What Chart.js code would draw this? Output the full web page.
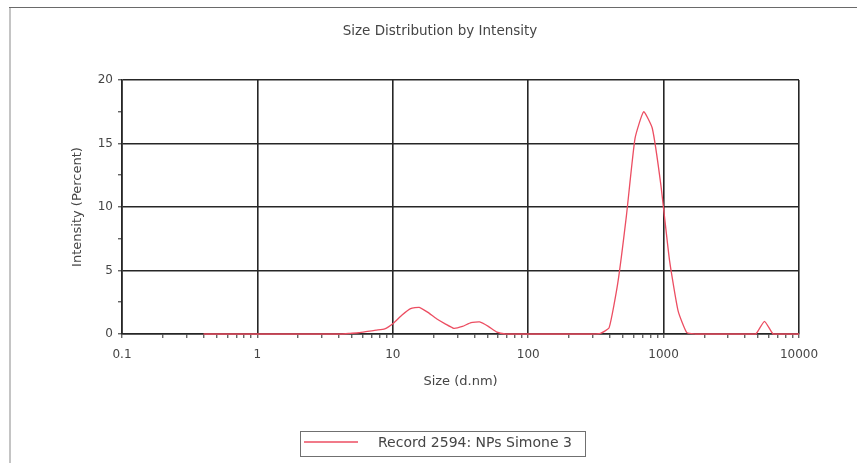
<!DOCTYPE html>
<html>
<head>
<meta charset="utf-8">
<title>Size Distribution by Intensity</title>
<script src="https://cdn.jsdelivr.net/npm/chart.js@4.4.1/dist/chart.umd.min.js"></script>
<style>
  html, body { margin: 0; padding: 0; background: #fff; }
  #wrap { width: 857px; height: 463px; position: relative; }
</style>
</head>
<body>
<div id="wrap"><canvas id="dist"></canvas></div>
<script>
// size classes (d.nm) and intensity (%)
var sizes = [0.4, 0.4632, 0.5365, 0.6213, 0.7195, 0.8332, 0.9649, 1.117, 1.294, 1.499,
  1.736, 2.010, 2.328, 2.696, 3.122, 3.615, 4.187, 4.849, 5.615, 6.503,
  7.531, 8.721, 10.10, 11.70, 13.54, 15.69, 18.17, 21.04, 24.36, 28.21,
  32.67, 37.84, 43.82, 50.75, 58.77, 68.06, 78.82, 91.28, 105.7, 122.4,
  141.8, 164.2, 190.1, 220.2, 255.0, 295.3, 342.0, 396.1, 458.7, 531.2,
  615.1, 712.4, 825.0, 955.4, 1106, 1281, 1484, 1718, 1990, 2305,
  2669, 3091, 3580, 4145, 4801, 5560, 6439, 7456, 8635, 10000];
var intensity = [0, 0, 0, 0, 0, 0, 0, 0, 0, 0,
  0, 0, 0, 0, 0, 0, 0, 0.05, 0.1, 0.2,
  0.3, 0.4, 0.85, 1.5, 2.0, 2.1, 1.7, 1.2, 0.8, 0.45,
  0.6, 0.9, 0.95, 0.6, 0.15, 0, 0, 0, 0, 0,
  0, 0, 0, 0, 0, 0, 0.05, 0.5, 4.0, 9.3,
  15.4, 17.5, 16.2, 11.7, 5.8, 1.8, 0.1, 0, 0, 0,
  0, 0, 0, 0, 0, 1.0, 0, 0, 0, 0];
var xDecades = [0.1, 1, 10, 100, 1000, 10000];
var yMajor = [0, 5, 10, 15, 20];

var chartTitle = 'Size Distribution by Intensity';
var recordLabel = 'Record 2594: NPs Simone 3';
var lineColor = 'rgb(236, 78, 98)';
var gridColor = '#262626';
var textColor = '#454545';

Chart.defaults.font.family = '"DejaVu Sans", sans-serif';
Chart.defaults.font.size = 13;
Chart.defaults.color = textColor;

var isDecade = function (v) {
  var l = Math.log10(v);
  return Math.abs(l - Math.round(l)) < 1e-6;
};

// page frame, title and the boxed legend of the report
var reportDecor = {
  id: 'reportDecor',
  afterDraw: function (chart) {
    var c = chart.ctx;
    c.save();
    c.strokeStyle = '#c4c4c4';
    c.lineWidth = 2;
    c.beginPath(); c.moveTo(10, 7); c.lineTo(10, 463); c.stroke();
    c.strokeStyle = '#6a6a6a';
    c.lineWidth = 1;
    c.beginPath(); c.moveTo(9, 7.5); c.lineTo(857, 7.5); c.stroke();

    c.fillStyle = textColor;
    c.font = '13.5px "DejaVu Sans"';
    c.textAlign = 'center';
    c.textBaseline = 'middle';
    c.fillText(chartTitle, 440, 31);

    var ds = chart.data.datasets[0];
    c.strokeStyle = '#707070';
    c.lineWidth = 1;
    c.strokeRect(300.5, 431.5, 285, 25);
    c.strokeStyle = ds.borderColor;
    c.lineWidth = 1.3;
    c.beginPath(); c.moveTo(304, 442); c.lineTo(358, 442); c.stroke();
    c.font = '14px "DejaVu Sans"';
    c.textAlign = 'left';
    c.fillText(ds.label, 378, 443);
    c.restore();
  }
};

new Chart(document.getElementById('dist'), {
  type: 'line',
  data: {
    datasets: [{
      label: recordLabel,
      data: sizes.map(function (s, i) { return { x: s, y: intensity[i] }; }),
      borderColor: lineColor,
      borderWidth: 1.3,
      pointRadius: 0,
      tension: 0.15,
      fill: false,
      clip: 6
    }]
  },
  options: {
    responsive: true,
    maintainAspectRatio: false,
    animation: false,
    layout: { padding: { top: 80, left: 0, right: 58, bottom: 73 } },
    plugins: {
      legend: { display: false },
      title: { display: false },
      tooltip: { enabled: false }
    },
    scales: {
      x: {
        type: 'logarithmic',
        min: 0.1,
        max: 10000,
        afterBuildTicks: function (s) {
          var t = [];
          xDecades.forEach(function (d, i) {
            t.push({ value: d });
            if (i < xDecades.length - 1) {
              for (var k = 2; k <= 9; k++) t.push({ value: +(d * k).toPrecision(3) });
            }
          });
          s.ticks = t;
        },
        afterFit: function (s) { s.height = 56; },
        ticks: {
          autoSkip: false,
          maxRotation: 0,
          padding: 10,
          font: { size: 12 },
          callback: function (v) { return isDecade(v) ? String(v) : ''; }
        },
        grid: {
          color: function (ctx) {
            return ctx.tick && isDecade(ctx.tick.value) ? gridColor : 'rgba(0,0,0,0)';
          },
          lineWidth: 1.6,
          tickColor: gridColor,
          tickLength: 4,
          tickWidth: 1
        },
        border: { color: gridColor, width: 1.6 },
        title: { display: true, text: 'Size (d.nm)', padding: { top: 0, bottom: 1 } }
      },
      y: {
        min: 0,
        max: 20,
        afterFit: function (s) { s.width = 122; },
        ticks: {
          stepSize: 2.5,
          padding: 5,
          font: { size: 12 },
          callback: function (v) { return yMajor.indexOf(v) >= 0 ? String(v) : ''; }
        },
        grid: {
          color: function (ctx) {
            return ctx.tick && yMajor.indexOf(ctx.tick.value) >= 0 ? gridColor : 'rgba(0,0,0,0)';
          },
          lineWidth: 1.6,
          tickColor: gridColor,
          tickLength: 4,
          tickWidth: 1
        },
        border: { color: gridColor, width: 1.6 },
        title: { display: true, text: 'Intensity (Percent)', padding: { top: 70, bottom: 0 } }
      }
    }
  },
  plugins: [reportDecor]
});
</script>
</body>
</html>
